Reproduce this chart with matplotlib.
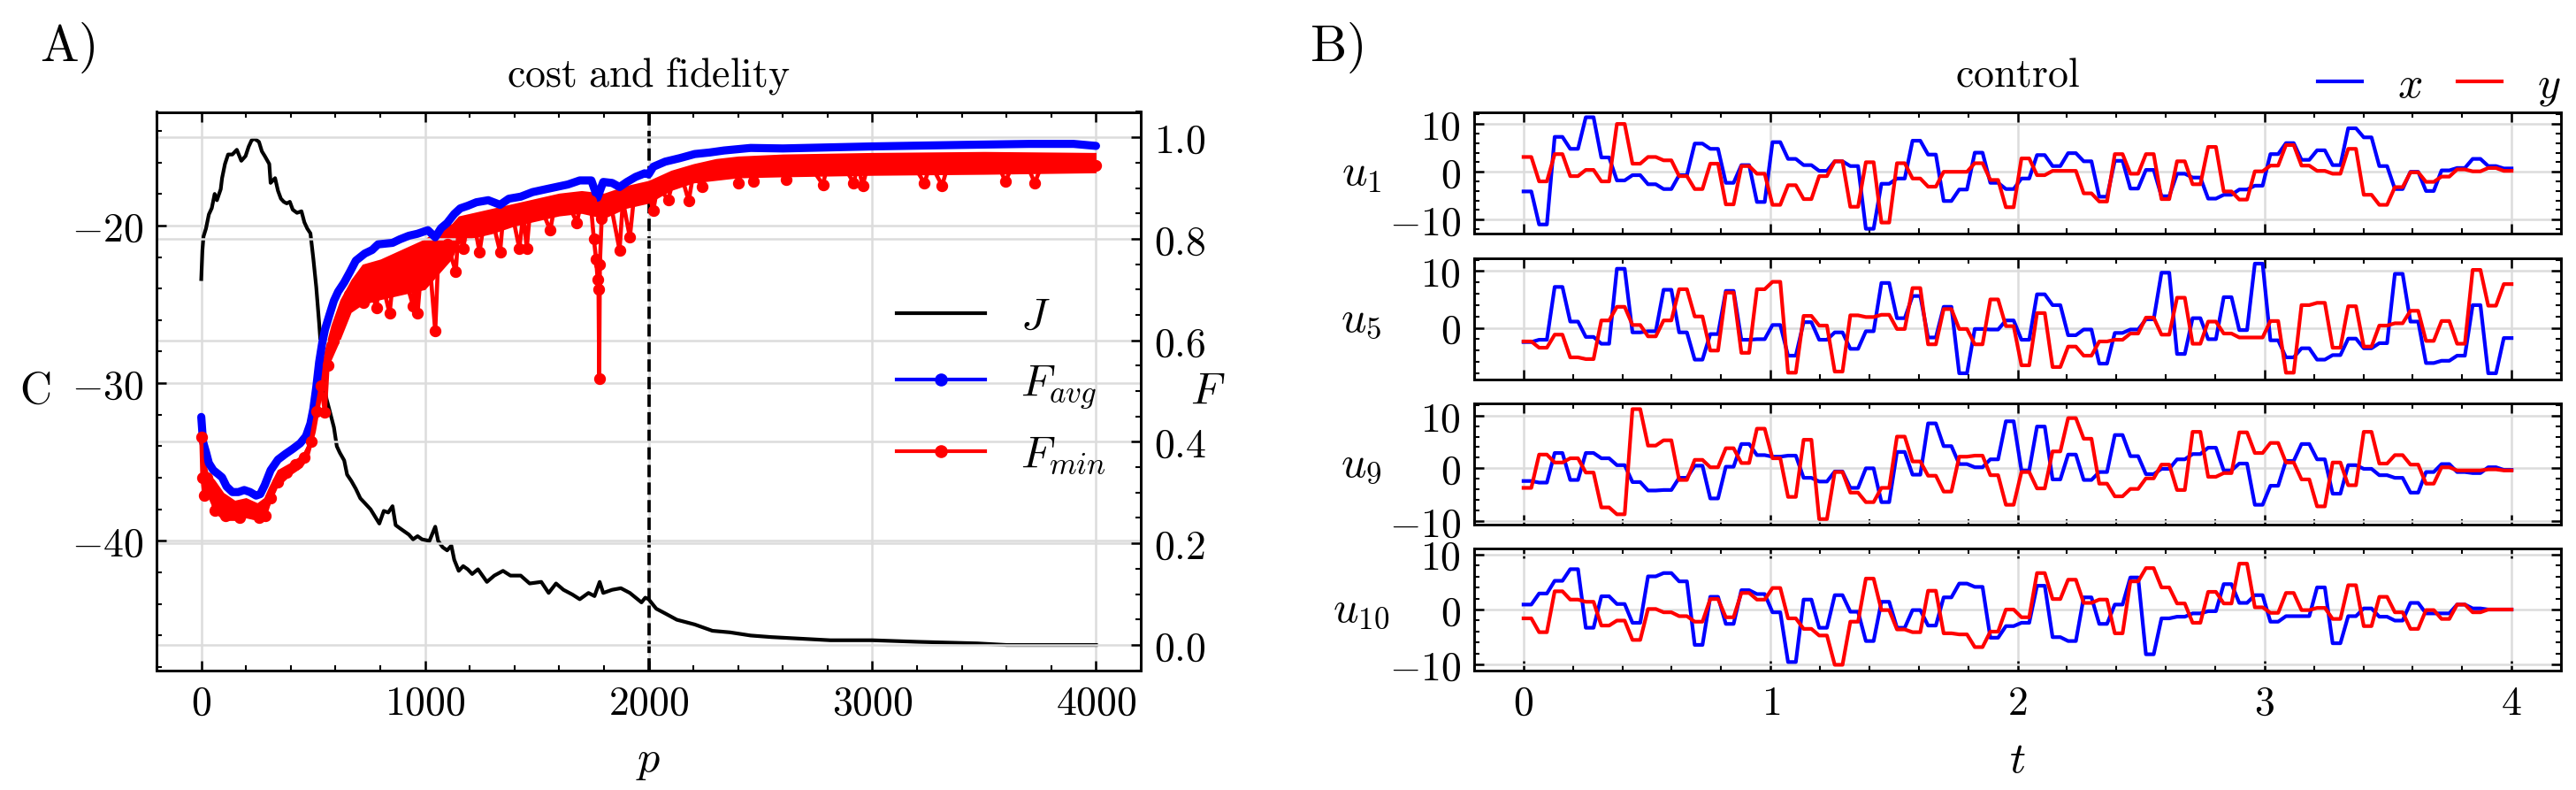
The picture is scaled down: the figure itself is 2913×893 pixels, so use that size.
import numpy as np
import matplotlib
matplotlib.use("Agg")
import matplotlib.pyplot as plt
from matplotlib.ticker import MultipleLocator, FuncFormatter
from matplotlib.lines import Line2D

# ---- panel A: cost J and fidelities vs iteration p ----
j_p = [0, 5, 10, 21, 34, 47, 60, 70, 87, 93, 106, 120, 139, 159, 179, 198, 212, 225, 238,
       258, 271, 284, 304, 310, 330, 343, 356, 369, 382, 396, 409, 428, 448, 461, 474, 488,
       501, 514, 527, 534, 547, 560, 573, 593, 606, 619, 639, 652, 671, 691, 711, 731, 757,
       783, 796, 816, 836, 855, 869, 888, 908, 928, 947, 967, 987, 1020, 1046, 1059, 1079,
       1099, 1118, 1131, 1151, 1171, 1191, 1211, 1237, 1277, 1310, 1349, 1382, 1428, 1468,
       1520, 1553, 1586, 1619, 1659, 1692, 1731, 1758, 1781, 1797, 1837, 1876, 1916, 1942,
       1968, 1985, 2000, 2034, 2074, 2126, 2206, 2285, 2364, 2456, 2549, 2680, 2812, 3000,
       3207, 3470, 3601, 3799, 4000]
j_c = [-23.4, -21.6, -20.7, -20.2, -19.3, -18.9, -18.0, -18.4, -17.7, -17.0, -16.1, -15.5,
       -15.5, -15.2, -15.9, -15.6, -15.0, -14.6, -14.5, -14.7, -15.3, -15.6, -16.1, -17.3,
       -17.0, -17.8, -18.3, -18.5, -18.6, -18.5, -19.0, -19.2, -19.1, -19.8, -20.2, -20.5,
       -22.1, -23.9, -26.2, -27.6, -29.9, -31.0, -31.7, -32.8, -34.0, -34.4, -34.9, -35.8,
       -36.2, -36.7, -37.3, -37.6, -38.0, -38.6, -38.9, -38.1, -38.2, -37.8, -39.0, -39.2,
       -39.4, -39.6, -39.9, -39.7, -39.9, -40.0, -39.1, -40.0, -40.4, -40.6, -40.3, -41.2,
       -41.9, -41.6, -41.8, -42.1, -41.8, -42.6, -42.2, -41.9, -42.2, -42.2, -42.7, -42.6,
       -43.3, -42.7, -43.1, -43.4, -43.7, -43.3, -43.5, -42.6, -43.3, -43.1, -43.0, -43.3,
       -43.6, -43.9, -43.6, -43.7, -44.3, -44.6, -45.0, -45.3, -45.7, -45.8, -46.0, -46.1,
       -46.2, -46.3, -46.3, -46.4, -46.5, -46.6, -46.6, -46.6]

favg_p = [0, 8, 21, 34, 54, 74, 93, 113, 139, 166, 192, 218, 245, 264, 284, 310, 343, 376,
          409, 442, 468, 488, 501, 514, 527, 540, 553, 573, 593, 612, 639, 665, 691, 731,
          764, 790, 855, 888, 928, 967, 1013, 1046, 1072, 1099, 1131, 1158, 1191, 1230,
          1283, 1336, 1375, 1428, 1481, 1533, 1586, 1639, 1692, 1744, 1771, 1797, 1837,
          1870, 1903, 1942, 1982, 2000, 2021, 2074, 2140, 2206, 2272, 2337, 2456, 2600,
          3000, 3400, 3700, 3900, 4000]
favg_v = [0.449, 0.40, 0.38, 0.358, 0.344, 0.337, 0.33, 0.312, 0.301, 0.301, 0.305, 0.301,
          0.294, 0.297, 0.315, 0.344, 0.365, 0.376, 0.386, 0.397, 0.411, 0.436, 0.465, 0.507,
          0.557, 0.593, 0.621, 0.65, 0.678, 0.696, 0.714, 0.735, 0.757, 0.771, 0.778, 0.789,
          0.792, 0.799, 0.806, 0.81, 0.817, 0.803, 0.821, 0.831, 0.849, 0.86, 0.865, 0.872,
          0.876, 0.867, 0.879, 0.883, 0.892, 0.897, 0.902, 0.907, 0.915, 0.915, 0.881, 0.912,
          0.91, 0.902, 0.912, 0.922, 0.929, 0.927, 0.942, 0.952, 0.959, 0.967, 0.97, 0.974,
          0.979, 0.978, 0.982, 0.985, 0.987, 0.987, 0.983]

fmin_p = [0, 5, 14, 25, 45, 60, 80, 110, 140, 170, 200, 230, 260, 285, 310, 340, 380, 420,
          460, 490, 515, 535, 553, 565, 590, 620, 660, 700, 724, 745, 783, 800, 842, 860,
          900, 947, 955, 967, 985, 1020, 1046, 1060, 1100, 1138, 1150, 1171, 1190, 1220,
          1244, 1265, 1300, 1336, 1350, 1390, 1422, 1440, 1455, 1470, 1520, 1560, 1580, 1640,
          1679, 1700, 1740, 1755, 1765, 1772, 1776, 1779, 1782, 1790, 1830, 1870, 1885, 1916,
          1935, 1970, 2000, 2021, 2040, 2087, 2110, 2150, 2179, 2200, 2238, 2260, 2320, 2380,
          2403, 2420, 2470, 2500, 2560, 2614, 2650, 2720, 2779, 2800, 2870, 2917, 2935, 2957,
          2980, 3050, 3120, 3180, 3233, 3260, 3312, 3340, 3420, 3500, 3560, 3595, 3630, 3690,
          3726, 3760, 3850, 3920, 4000]
fmin_v = [0.41, 0.33, 0.294, 0.33, 0.30, 0.265, 0.29, 0.255, 0.27, 0.25, 0.265, 0.26, 0.25,
          0.255, 0.29, 0.32, 0.34, 0.355, 0.37, 0.40, 0.46, 0.51, 0.458, 0.55, 0.60, 0.64,
          0.69, 0.71, 0.675, 0.72, 0.664, 0.73, 0.653, 0.73, 0.74, 0.668, 0.74, 0.653, 0.75,
          0.76, 0.618, 0.77, 0.79, 0.735, 0.82, 0.781, 0.83, 0.83, 0.774, 0.835, 0.84, 0.774,
          0.845, 0.85, 0.781, 0.85, 0.781, 0.855, 0.86, 0.817, 0.865, 0.87, 0.832, 0.875,
          0.875, 0.80, 0.76, 0.72, 0.70, 0.524, 0.75, 0.84, 0.87, 0.778, 0.875, 0.803, 0.885,
          0.89, 0.89, 0.856, 0.905, 0.877, 0.915, 0.92, 0.874, 0.93, 0.902, 0.935, 0.94, 0.945,
          0.91, 0.945, 0.913, 0.945, 0.945, 0.917, 0.945, 0.945, 0.907, 0.945, 0.945, 0.91,
          0.945, 0.905, 0.945, 0.948, 0.948, 0.948, 0.91, 0.948, 0.905, 0.948, 0.948, 0.948,
          0.948, 0.913, 0.948, 0.948, 0.91, 0.948, 0.948, 0.948, 0.945]

# spread of the dense F_min cloud
band_p = [0, 10, 30, 60, 100, 150, 200, 250, 280, 300, 340, 400, 450, 480, 510, 530, 550,
          580, 620, 670, 720, 800, 900, 1000, 1060, 1120, 1150, 1200, 1300, 1400, 1500, 1600,
          1700, 1800, 1900, 2000, 2100, 2200, 2300, 2400, 2600, 3000, 3500, 4000]
band_hi = [0.42, 0.38, 0.34, 0.325, 0.30, 0.285, 0.29, 0.28, 0.29, 0.31, 0.345, 0.36, 0.375,
           0.40, 0.47, 0.53, 0.58, 0.63, 0.68, 0.72, 0.75, 0.76, 0.78, 0.80, 0.82, 0.83,
           0.845, 0.85, 0.86, 0.87, 0.88, 0.89, 0.895, 0.89, 0.905, 0.915, 0.935, 0.948,
           0.958, 0.963, 0.967, 0.97, 0.972, 0.97]
band_lo = [0.33, 0.29, 0.29, 0.26, 0.245, 0.245, 0.25, 0.245, 0.25, 0.27, 0.31, 0.335, 0.35,
           0.37, 0.42, 0.47, 0.52, 0.56, 0.60, 0.655, 0.67, 0.68, 0.69, 0.70, 0.73, 0.76,
           0.79, 0.80, 0.81, 0.825, 0.835, 0.845, 0.85, 0.84, 0.86, 0.87, 0.895, 0.91, 0.915,
           0.92, 0.922, 0.925, 0.927, 0.93]

# ---- panel B: controls, 64 piecewise-constant segments on t in [0, 4] ----
u1_x = [-4.1, -11.0, 7.3, 4.8, 11.4, 3.0, -1.8, -0.7, -2.6, -3.6, -0.7, 5.9, 4.8, -2.3, 1.4,
        -6.3, 6.2, 2.7, 1.4, 0.2, 2.2, 1.2, -11.9, -2.5, -1.4, 6.5, 3.6, -6.1, -3.7, 4.0,
        -2.3, -3.6, -1.4, 3.5, 1.2, 3.9, 2.2, -5.2, 2.3, -3.5, 0.4, -5.1, -0.4, -1.2, -5.6,
        -4.8, -3.7, -2.9, 3.7, 6.0, 2.5, 4.5, 1.4, 9.1, 7.2, 1.2, -3.6, 0.0, -4.0, 0.3, 0.8,
        2.7, 1.2, 0.7]
u1_y = [3.1, -2.0, 3.7, -0.9, 0.4, -2.0, 10.0, 1.7, 3.1, 2.4, -0.9, -3.6, 1.7, -6.8, 1.2,
        -0.4, -6.9, -2.8, -5.7, -0.9, 2.2, -7.3, 2.0, -10.6, 1.8, -1.4, -3.1, 0.0, 0.0, 1.8,
        -1.7, -7.4, 2.8, -0.7, 0.2, 0.2, -4.5, -6.2, 3.7, -0.4, 3.7, -5.7, 2.2, -2.6, 5.2,
        -4.1, -5.8, 0.1, 1.3, 5.6, 1.3, 0.2, -0.4, 4.8, -4.8, -6.9, -3.2, -0.1, -2.1, -1.0,
        0.5, 0.1, 0.8, 0.2]
u5_x = [-2.5, -2.1, 7.2, 1.1, -1.6, -2.8, 10.4, -0.8, -0.6, 6.7, -0.8, -5.6, -1.1, 6.5, -2.1,
        -2.0, 0.5, -4.9, 1.0, -2.1, -0.8, -3.7, -0.6, 7.9, 1.7, 5.6, -1.7, 3.7, -8.0, -0.2,
        -0.3, 1.3, -2.1, 5.9, 4.0, -1.3, -0.3, -6.3, -0.9, -0.3, 1.5, 9.7, -4.6, 1.7, -2.0,
        5.4, -0.4, 11.3, -2.2, -5.2, -3.6, -5.6, -4.8, -1.9, -3.6, -2.7, 9.5, 1.1, -6.2,
        -5.8, -4.9, 4.0, -8.0, -1.8]
u5_y = [-2.4, -3.5, -1.2, -5.2, -5.5, 1.3, 3.7, 0.5, -1.5, 1.3, 6.8, 2.0, -4.0, 6.2, -4.4,
        6.8, 8.1, -7.9, 2.1, 0.4, -7.7, 2.2, 1.9, 2.3, -0.2, 7.0, -2.9, 3.3, -0.2, -2.9, 5.0,
        0.3, -6.6, 2.6, -6.9, -3.3, -4.9, -2.4, -2.1, -1.0, 1.8, -1.2, 5.3, -2.8, 1.1, -1.0,
        -1.7, -1.7, 1.2, -7.9, 4.0, 4.4, -3.5, 3.8, -3.3, 0.4, 0.8, 3.0, -2.3, 1.2, -2.8,
        10.2, 3.9, 7.7]
u9_x = [-2.4, -2.7, 2.9, -2.2, 2.9, 1.9, 0.6, -2.6, -4.2, -4.1, -1.8, 0.5, -5.7, 0.3, 4.6,
        2.5, 2.2, 2.4, -1.8, -2.5, -0.6, -3.7, 0.0, -6.4, 3.1, -1.2, 8.5, 4.2, 0.8, 0.2, 1.7,
        8.9, -0.4, 7.9, -2.1, 2.6, -2.2, -0.7, 6.3, 2.3, -1.1, -0.1, 1.7, 2.7, 3.9, -0.4, 0.9,
        -6.9, -3.3, 1.4, 4.6, 1.7, -4.8, 0.6, -0.1, -1.3, -1.8, -4.6, -0.7, 0.8, -0.7, -0.9,
        0.2, -0.3]
u9_y = [-3.7, 2.6, 1.1, 1.9, -0.8, -7.4, -8.7, 11.2, 4.3, 5.3, -2.2, 1.6, 0.2, 3.8, 1.0, 7.5,
        1.9, -5.4, 5.4, -9.6, -0.7, -4.6, -6.4, -3.7, 6.0, 1.3, -1.4, -4.4, 2.2, 2.4, -1.3,
        -6.9, -0.7, -3.8, 3.2, 9.5, 5.6, -2.9, -5.3, -3.9, -1.9, 0.7, -4.1, 6.9, -1.6, -0.9,
        6.8, 2.9, 4.8, 1.1, -2.1, -7.2, 1.1, -3.2, 6.9, 0.9, 2.5, 0.7, -2.9, 0.2, -0.4, -0.4,
        -0.2, -0.4]
u10_x = [0.9, 2.9, 5.2, 7.3, -3.3, 2.4, 1.0, -2.4, 6.0, 6.6, 5.1, -6.4, 2.3, -2.6, 3.5, 2.8,
         -0.5, -9.5, 1.8, -3.3, 2.6, -0.4, -5.7, 1.4, -3.3, -0.1, -2.9, 2.2, 4.7, 4.1, -5.1,
         -3.0, -2.4, 4.3, -5.0, -5.7, 2.2, -2.6, 0.9, 5.8, -8.1, -1.6, -1.3, -0.7, -0.3, 4.6,
         1.2, 2.6, -2.2, -1.2, -1.2, 4.0, -6.1, -1.2, 0.2, -1.3, -2.0, 1.2, -0.7, -0.7, 0.9,
         0.2, 0.0, 0.0]
u10_y = [-1.6, -4.1, 3.3, 1.8, 1.4, -2.9, -2.0, -5.5, 0.1, -0.5, -1.2, -2.2, 1.9, -1.4, 3.0,
         1.8, 3.9, -1.6, -3.5, -4.7, -10.0, -2.2, 5.6, -0.1, -3.6, -4.1, 3.4, -4.3, -4.5,
         -6.8, -4.0, 0.0, -1.4, 6.6, 1.9, 5.4, 1.2, 1.8, -4.3, 5.1, 7.5, 4.0, 1.1, -2.4, 3.2,
         1.1, 8.3, 0.4, -0.6, 3.0, -0.1, 0.3, -1.7, 4.4, -3.0, 2.3, -0.5, -3.5, -0.1, -1.7,
         0.9, -0.5, 0.0, 0.0]
u_labels = ["$u_1$", "$u_5$", "$u_9$", "$u_{10}$"]

plt.rcParams.update({
    "mathtext.fontset": "cm",
    "font.family": "serif",
    "font.serif": ["DejaVu Serif"],
    "font.size": 11,
    "xtick.direction": "in",
    "ytick.direction": "in",
    "xtick.major.size": 2.6,
    "ytick.major.size": 2.6,
    "xtick.minor.size": 1.5,
    "ytick.minor.size": 1.5,
    "xtick.major.width": 0.6,
    "ytick.major.width": 0.6,
    "xtick.minor.width": 0.5,
    "ytick.minor.width": 0.5,
    "axes.linewidth": 0.7,
    "grid.color": "#dcdcdc",
    "grid.linewidth": 0.6,
    "legend.frameon": False,
})

W, H = 2913, 893
fig = plt.figure(figsize=(W / 300, H / 300), dpi=300)


def math_fmt(v, pos):
    if abs(v) < 1e-9:
        v = 0
    return f"${v:g}$"


def f_fmt(v, pos):
    if abs(v) < 1e-9:
        v = 0
    return f"${v:.1f}$"


# ---------------- A) ----------------
ax = fig.add_axes([177 / W, 1 - 757.6 / H, (1290 - 177) / W, (757.6 - 126.5) / H])
ax.plot(j_p, j_c, color="k", lw=1.0)
ax.axvline(2000, color="k", ls="--", lw=0.9)
ax.set_xlim(-200, 4200)
ax.set_ylim(-48.2, -12.8)
ax.xaxis.set_major_locator(MultipleLocator(1000))
ax.xaxis.set_minor_locator(MultipleLocator(200))
ax.yaxis.set_major_locator(MultipleLocator(10))
ax.yaxis.set_minor_locator(MultipleLocator(2))
ax.xaxis.set_major_formatter(FuncFormatter(math_fmt))
ax.yaxis.set_major_formatter(FuncFormatter(math_fmt))
ax.tick_params(which="both", top=True, right=False)
ax.grid(True, which="major")
ax.set_xlabel("$p$", fontsize=12)
ax.set_ylabel(r"$\mathrm{C}$", fontsize=12, rotation=0, ha="center", va="center")
ax.yaxis.set_label_coords(-0.123, 0.5)
ax.set_title(r"$\mathrm{cost\ and\ fidelity}$", fontsize=11, pad=7)

ax2 = ax.twinx()
ax2.plot(favg_p, favg_v, color="b", lw=2.2, solid_capstyle="round")
ax2.fill_between(band_p, band_lo, band_hi, color="r", lw=0)
ax2.plot(fmin_p, fmin_v, color="r", lw=1.1, marker="o", ms=2.2)
ax2.set_ylim(-0.05, 1.05)
ax2.yaxis.set_major_locator(MultipleLocator(0.2))
ax2.yaxis.set_minor_locator(MultipleLocator(0.05))
ax2.yaxis.set_major_formatter(FuncFormatter(f_fmt))
ax2.tick_params(which="both", right=True, left=False)
ax2.grid(True, axis="y")
ax2.set_ylabel("$F$", fontsize=12, rotation=0, ha="center", va="center")
ax2.yaxis.set_label_coords(1.068, 0.5)

handles = [Line2D([], [], color="k", lw=1.0),
           Line2D([], [], color="b", lw=1.0, marker="o", ms=2.5),
           Line2D([], [], color="r", lw=1.0, marker="o", ms=2.5)]
ax2.legend(handles, ["$J$", "$F_{avg}$", "$F_{min}$"], fontsize=12,
           loc="center right", bbox_to_anchor=(0.965, 0.51),
           borderaxespad=0, borderpad=0)

# ---------------- B) ----------------
t = np.linspace(0, 4, 128)
series = [(u1_x, u1_y), (u5_x, u5_y), (u9_x, u9_y), (u10_x, u10_y)]
ylims = [(-12.9, 12.5), (-9.1, 12.3), (-10.7, 12.3), (-11.0, 11.0)]
bottoms = [264.0, 429.0, 593.3, 757.7]
for i, (ux, uy) in enumerate(series):
    a = fig.add_axes([1667 / W, 1 - bottoms[i] / H, (2896 - 1667) / W, 137.4 / H])
    a.plot(t, np.repeat(ux, 2), color="b", lw=1.0)
    a.plot(t, np.repeat(uy, 2), color="r", lw=1.0)
    a.set_xlim(-0.2, 4.2)
    a.set_ylim(*ylims[i])
    a.xaxis.set_major_locator(MultipleLocator(1))
    a.xaxis.set_minor_locator(MultipleLocator(0.2))
    a.yaxis.set_major_locator(MultipleLocator(10))
    a.yaxis.set_minor_locator(MultipleLocator(2))
    a.xaxis.set_major_formatter(FuncFormatter(math_fmt))
    a.yaxis.set_major_formatter(FuncFormatter(math_fmt))
    a.tick_params(which="both", top=True, right=True)
    a.grid(True, which="major")
    a.set_ylabel(u_labels[i], fontsize=12, rotation=0, ha="center", va="center")
    a.yaxis.set_label_coords(-0.104, 0.5)
    if i < 3:
        a.tick_params(labelbottom=False)
    else:
        a.set_xlabel("$t$", fontsize=12)
    if i == 0:
        a.set_title(r"$\mathrm{control}$", fontsize=11, pad=7)
        lh = [Line2D([], [], color="b", lw=1.0), Line2D([], [], color="r", lw=1.0)]
        a.legend(lh, ["$x$", "$y$"], ncol=2, fontsize=12, loc="lower right",
                 bbox_to_anchor=(1.0, 1.03), handlelength=1.0, columnspacing=0.8,
                 borderaxespad=0, borderpad=0)

fig.text(76 / W, 1 - 54 / H, r"$\mathrm{A)}$", fontsize=14, ha="center", va="center")
fig.text(1511 / W, 1 - 54 / H, r"$\mathrm{B)}$", fontsize=14, ha="center", va="center")

fig.savefig("out.png", dpi=300)
